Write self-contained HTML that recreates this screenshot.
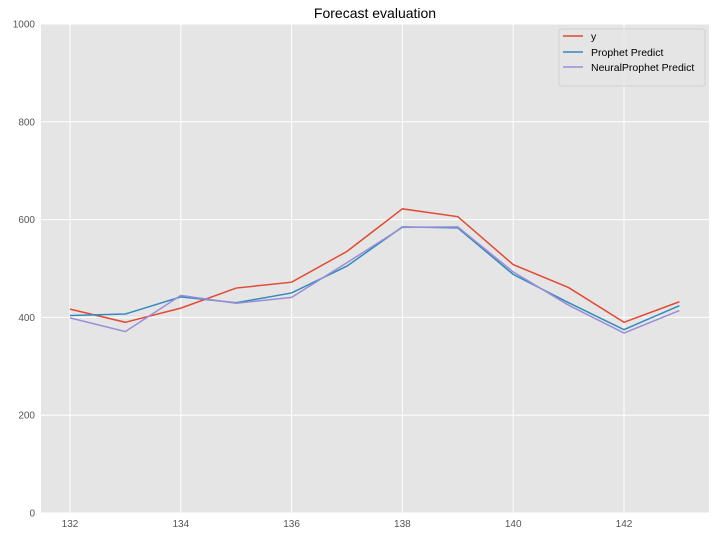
<!DOCTYPE html>
<html><head><style>
body{margin:0;background:#fff;}
svg{display:block;font-family:"Liberation Sans","DejaVu Sans",sans-serif;}
</style></head><body>
<svg id="s" width="716" height="537" xmlns="http://www.w3.org/2000/svg">
<rect x="41" y="24" width="668" height="489" fill="#e5e5e5"/>
<g id="grid" stroke="#fff" stroke-width="1"></g>
<g id="lines" fill="none" stroke-width="1.5"></g>
<g id="labels" font-size="10" fill="#555"></g>
<text x="375" y="18" font-size="14" text-anchor="middle" fill="#000">Forecast evaluation</text>
<g>
<rect x="559" y="29" width="146" height="57" fill="#e5e5e5" fill-opacity="0.8" stroke="#ccc" stroke-opacity="0.8" stroke-width="1" rx="2"/>
<line x1="563" x2="583" y1="36" y2="36" stroke="#E24A33" stroke-width="1.5"/>
<text x="591" y="40" font-size="10.5" fill="#000">y</text>
<line x1="563" x2="583" y1="52" y2="52" stroke="#348ABD" stroke-width="1.5"/>
<text x="591" y="56" font-size="10.5" fill="#000">Prophet Predict</text>
<line x1="563" x2="583" y1="67" y2="67" stroke="#988ED5" stroke-width="1.5"/>
<text x="591" y="71" font-size="10.5" fill="#000">NeuralProphet Predict</text>
</g>
</svg>
<script>
var X=function(v){return 70+(v-132)*55.4;},Y=function(v){return 513-v*0.489;};
var g=document.getElementById('grid'),l=document.getElementById('lines'),t=document.getElementById('labels'),ns='http://www.w3.org/2000/svg';
function el(p,n,a,txt){var e=document.createElementNS(ns,n);for(var k in a)e.setAttribute(k,a[k]);if(txt!=null)e.textContent=txt;p.appendChild(e);}
for(var v=0;v<=1000;v+=200){var y=Y(v);el(g,'line',{x1:41,x2:709,y1:y,y2:y});el(t,'text',{x:35,y:y+3.5,'text-anchor':'end'},v);}
for(var v=132;v<=142;v+=2){var x=X(v);el(g,'line',{x1:x,x2:x,y1:24,y2:513});el(t,'text',{x:x,y:527,'text-anchor':'middle'},v);}
var d=[["#E24A33",[417,390,419,460,472,535,622,606,508,461,390,432]],
["#348ABD",[404,407,442,430,450,505,585,583,488,430,375,424]],
["#988ED5",[399,371,445,429,441,512,584,585,493,425,368,414]]];
d.forEach(function(s){el(l,'polyline',{stroke:s[0],points:s[1].map(function(v,i){return X(132+i)+','+Y(v);}).join(' ')});});
</script>
</body></html>
